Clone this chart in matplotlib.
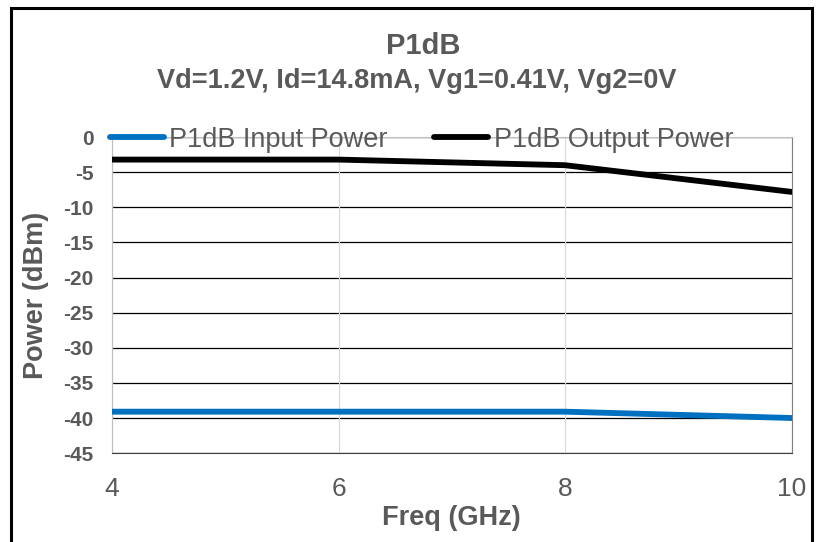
import matplotlib
matplotlib.use("Agg")
import matplotlib.pyplot as plt
from matplotlib.patches import Rectangle

plt.rcParams['font.family'] = ['Liberation Sans', 'DejaVu Sans']

freq = [4, 6, 8, 10]
p_in = [-39.1, -39.1, -39.1, -40.0]
p_out = [-3.2, -3.2, -4.0, -7.8]
yticks = [0, -5, -10, -15, -20, -25, -30, -35, -40, -45]
xticks = [4, 6, 8, 10]

gray = '#595959'
fig = plt.figure(figsize=(8.17, 5.42), dpi=100)
ax = fig.add_axes([0.137, 0.164, 0.832, 0.583])

for y in yticks:
    ax.axhline(y, color='black', lw=0.9, zorder=1)
for x in xticks:
    ax.axvline(x, color='#d9d9d9', lw=0.9, zorder=1)

ax.plot(freq, p_in, color='#0070c0', lw=4.2, label='P1dB Input Power', zorder=3, solid_capstyle='round')
ax.plot(freq, p_out, color='black', lw=4.2, label='P1dB Output Power', zorder=3, solid_capstyle='round')

ax.set_xlim(4, 10)
ax.set_ylim(-45, 0)
ax.set_xticks(xticks)
ax.set_yticks(yticks)
ax.set_xticklabels([str(v) for v in xticks], fontsize=19, color=gray)
ax.set_yticklabels([str(v) for v in yticks], fontsize=15, color=gray, fontweight='bold')
ax.tick_params(length=0)
ax.tick_params(axis='y', pad=13)
ax.tick_params(axis='x', pad=17)
ax.spines['left'].set_color('#bfbfbf')
ax.spines['right'].set_color('#7f7f7f')
ax.spines['top'].set_color('#bfbfbf')
ax.spines['bottom'].set_color('#404040')

ax.set_xlabel('Freq (GHz)', fontsize=19.5, fontweight='bold', color=gray)
ax.set_ylabel('Power (dBm)', fontsize=19.5, fontweight='bold', color=gray)
ax.xaxis.set_label_coords(0.5, -0.165)
ax.yaxis.set_label_coords(-0.092, 0.5)

fig.text(0.518, 0.915, 'P1dB', ha='center', va='center', fontsize=21, fontweight='bold', color=gray)
fig.text(0.51, 0.851, 'Vd=1.2V, Id=14.8mA, Vg1=0.41V, Vg2=0V', ha='center', va='center',
         fontsize=19.5, fontweight='bold', color=gray)

leg = fig.legend(loc='center', bbox_to_anchor=(0.516, 0.742), ncol=2, frameon=False,
                 fontsize=19.5, handlelength=2.0, handletextpad=0.2, columnspacing=1.7,
                 labelcolor=gray, borderpad=0.0)

fig.add_artist(Rectangle((0.013, -0.05), 0.981, 1.035, transform=fig.transFigure,
                         fill=False, edgecolor='black', lw=2.2))

fig.savefig('out.png', dpi=100)
